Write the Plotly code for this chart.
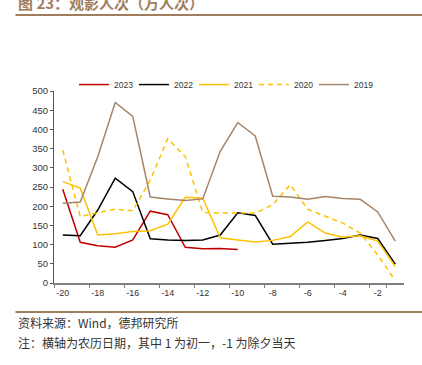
import plotly.graph_objects as go

days = list(range(-20, 0))
day_labels = [str(d) for d in days]

s2023 = [244, 106, 97, 93, 112, 187, 178, 93, 89, 90, 87]
s2022 = [125, 123, 190, 273, 238, 115, 112, 111, 112, 125, 183, 176, 101, 104, 106, 111, 116, 125, 116, 49]
s2021 = [264, 247, 125, 128, 134, 136, 153, 223, 221, 118, 112, 107, 111, 121, 159, 130, 119, 123, 109, 43]
s2020 = [346, 173, 183, 192, 188, 268, 376, 329, 184, 182, 182, 182, 204, 256, 192, 175, 156, 130, 73, 6]
s2019 = [208, 211, 329, 470, 434, 224, 219, 215, 219, 343, 418, 383, 226, 224, 218, 225, 220, 218, 185, 109]

series = [
    ("2023", s2023, "#C00000", "solid"),
    ("2022", s2022, "#000000", "solid"),
    ("2021", s2021, "#FFC000", "solid"),
    ("2020", s2020, "#FFC000", "5px,4px"),
    ("2019", s2019, "#A5856A", "solid"),
]

fig = go.Figure()
for name, vals, color, dash in series:
    fig.add_trace(go.Scatter(
        x=day_labels[:len(vals)], y=vals, name=name, mode="lines",
        line=dict(color=color, width=1.5, dash=dash),
    ))

brown = "#A07D5C"
fig.update_layout(
    width=422, height=365,
    margin=dict(l=54, r=18, t=91, b=82, autoexpand=False),
    paper_bgcolor="white", plot_bgcolor="white",
    font=dict(family="Liberation Sans, Arial, sans-serif", size=9, color="#333333"),
    showlegend=True,
    legend=dict(orientation="h", x=0.057, y=0.958, xanchor="left", yanchor="bottom",
                font=dict(size=8.5, color="#333333"), itemwidth=30,
                entrywidth=15, entrywidthmode="pixels", bgcolor="rgba(0,0,0,0)"),
    xaxis=dict(type="category", categoryorder="array", categoryarray=day_labels,
               tickmode="array", tickvals=day_labels[::2], ticktext=day_labels[::2],
               tickson="boundaries", ticks="outside", ticklen=3, tickcolor="#808080",
               showline=True, linecolor="#808080", linewidth=1.5, showgrid=False,
               tickangle=0, zeroline=False, tickfont=dict(size=9, color="#333333"),
               range=[-0.5, 19.5]),
    yaxis=dict(range=[0, 500], dtick=50, ticks="outside", ticklen=3, tickcolor="#555555",
               showline=True, linecolor="#555555", linewidth=1, showgrid=False,
               zeroline=False, tickfont=dict(size=9.5, color="#333333")),
    shapes=[
        dict(type="line", xref="paper", yref="paper", x0=-0.11, x1=1.06, y0=1.396, y1=1.396,
             line=dict(color=brown, width=2)),
        dict(type="line", xref="paper", yref="paper", x0=-0.11, x1=1.06, y0=-0.151, y1=-0.151,
             line=dict(color=brown, width=2)),
    ],
    annotations=[
        dict(text="<b>图 23：观影人次（万人次）</b>", xref="paper", yref="paper",
             x=-0.11, y=1.462, xanchor="left", yanchor="middle", showarrow=False,
             font=dict(family="Noto Sans CJK SC", size=15, color=brown)),
        dict(text="资料来源：Wind，德邦研究所", xref="paper", yref="paper",
             x=-0.11, y=-0.205, xanchor="left", yanchor="middle", showarrow=False,
             font=dict(family="Noto Sans CJK SC", size=12, color="#333333")),
        dict(text="注：横轴为农历日期，其中 1 为初一，-1 为除夕当天", xref="paper", yref="paper",
             x=-0.11, y=-0.31, xanchor="left", yanchor="middle", showarrow=False,
             font=dict(family="Noto Sans CJK SC", size=12, color="#333333")),
    ],
)

fig.write_html("out.html", config={"displayModeBar": False},
               post_script="document.body.style.margin='0';")
